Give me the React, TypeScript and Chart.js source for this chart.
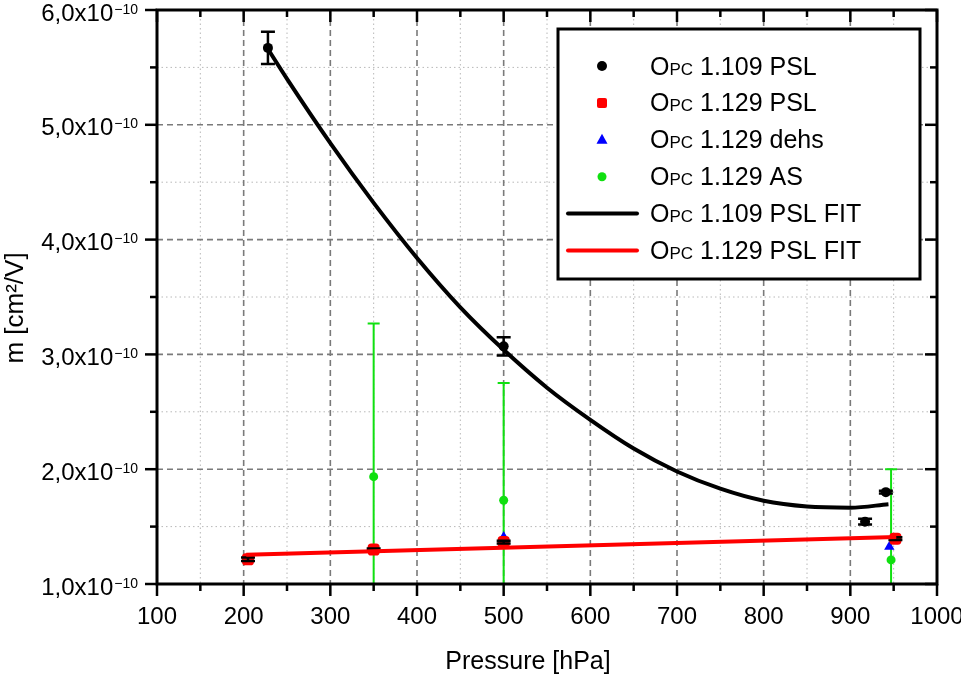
import { useEffect, useRef } from "react"
import { Chart, type ChartConfiguration, type Plugin, registerables } from "chart.js"

Chart.register(...registerables)

const FONT = '"Liberation Sans", Arial, Helvetica, sans-serif'

// OPC 1.109 PSL
const psl109X = [228, 500, 917, 941]
const psl109Y = [5.67e-10, 3.07e-10, 1.543e-10, 1.8e-10]
const psl109Err = [0.14e-10, 0.08e-10, 0.025e-10, 0.012e-10]

// OPC 1.129 PSL
const psl129X = [205, 350, 500, 952]
const psl129Y = [1.215e-10, 1.3e-10, 1.365e-10, 1.395e-10]
const psl129Err = [0.015e-10, 0.01e-10, 0.012e-10, 0.012e-10]

// OPC 1.129 dehs
const dehsX = [500, 945]
const dehsY = [1.41e-10, 1.325e-10]

// OPC 1.129 AS
const asX = [350, 500, 947]
const asY = [1.935e-10, 1.73e-10, 1.21e-10]
const asErr = [1.335e-10, 1.02e-10, 0.79e-10]

// fit curves
const fit109X = [228, 250, 300, 350, 400, 450, 500, 550, 600, 650, 700, 750, 800, 850, 900, 944]
const fit109Y = [
  5.66e-10, 5.4e-10, 4.84e-10, 4.32e-10, 3.84e-10, 3.41e-10, 3.04e-10, 2.71e-10,
  2.43e-10, 2.18e-10, 1.98e-10, 1.83e-10, 1.725e-10, 1.675e-10, 1.665e-10, 1.695e-10,
]
const fit129X = [203, 953]
const fit129Y = [1.255e-10, 1.41e-10]

const seriesNames = [
  "OPC 1.109 PSL",
  "OPC 1.129 PSL",
  "OPC 1.129 dehs",
  "OPC 1.129 AS",
  "OPC 1.109 PSL FIT",
  "OPC 1.129 PSL FIT",
]

const xMajorTicks = [100, 200, 300, 400, 500, 600, 700, 800, 900, 1000]
const xMinorTicks = [150, 250, 350, 450, 550, 650, 750, 850, 950]
const yMajorTicks = [1e-10, 2e-10, 3e-10, 4e-10, 5e-10, 6e-10]
const yMinorTicks = [1.5e-10, 2.5e-10, 3.5e-10, 4.5e-10, 5.5e-10]
const yTickMantissas = ["1,0", "2,0", "3,0", "4,0", "5,0", "6,0"]

const GREEN = "#10e010"

const pts = (xs: number[], ys: number[]) => xs.map((x, i) => ({ x, y: ys[i] }))

const errorBars: ({ err: number[]; color: string; half: number; width: number } | null)[] = [
  { err: psl109Err, color: "#000", half: 7, width: 2.5 },
  { err: psl129Err, color: "#000", half: 7, width: 2.5 },
  null,
  { err: asErr, color: GREEN, half: 6, width: 2 },
  null,
  null,
]

const framePlugin: Plugin<"scatter"> = {
  id: "frame",
  beforeDatasetsDraw(chart) {
    const { ctx, chartArea: a, scales } = chart
    const x = scales.x
    const y = scales.y
    ctx.save()
    const vline = (v: number) => {
      const p = x.getPixelForValue(v)
      ctx.beginPath()
      ctx.moveTo(p, a.top)
      ctx.lineTo(p, a.bottom)
      ctx.stroke()
    }
    const hline = (v: number) => {
      const p = y.getPixelForValue(v)
      ctx.beginPath()
      ctx.moveTo(a.left, p)
      ctx.lineTo(a.right, p)
      ctx.stroke()
    }
    ctx.strokeStyle = "#b8b8b8"
    ctx.lineWidth = 1
    ctx.setLineDash([1.5, 3])
    xMinorTicks.forEach(vline)
    yMinorTicks.forEach(hline)
    ctx.strokeStyle = "#7a7a7a"
    ctx.lineWidth = 1.6
    ctx.setLineDash([6, 4])
    xMajorTicks.forEach(vline)
    yMajorTicks.forEach(hline)
    ctx.restore()
  },
  afterDatasetDraw(chart, args) {
    const eb = errorBars[args.index]
    if (!eb) return
    const { ctx, chartArea: a, scales } = chart
    const data = chart.data.datasets[args.index].data as { x: number; y: number }[]
    ctx.save()
    ctx.beginPath()
    ctx.rect(a.left, a.top, a.right - a.left, a.bottom - a.top)
    ctx.clip()
    ctx.strokeStyle = eb.color
    ctx.lineWidth = eb.width
    data.forEach((p, i) => {
      const px = scales.x.getPixelForValue(p.x)
      const top = scales.y.getPixelForValue(p.y + eb.err[i])
      const bot = scales.y.getPixelForValue(p.y - eb.err[i])
      ctx.beginPath()
      ctx.moveTo(px, top)
      ctx.lineTo(px, bot)
      ctx.moveTo(px - eb.half, top)
      ctx.lineTo(px + eb.half, top)
      ctx.moveTo(px - eb.half, bot)
      ctx.lineTo(px + eb.half, bot)
      ctx.stroke()
    })
    ctx.restore()
  },
  afterDraw(chart) {
    const { ctx, chartArea: a, scales } = chart
    const x = scales.x
    const y = scales.y
    ctx.save()

    // legend
    const lx = 558
    const ly = 29
    ctx.fillStyle = "#fff"
    ctx.fillRect(lx, ly, 362, 250)
    ctx.strokeStyle = "#000"
    ctx.lineWidth = 3
    ctx.strokeRect(lx, ly, 362, 250)
    const mx = 602
    seriesNames.forEach((name, i) => {
      const ry = 66 + i * 36.9
      ctx.save()
      if (i === 0 || i === 3) {
        ctx.fillStyle = i === 0 ? "#000" : GREEN
        ctx.beginPath()
        ctx.arc(mx, ry, i === 0 ? 5 : 4.5, 0, Math.PI * 2)
        ctx.fill()
      } else if (i === 1) {
        ctx.fillStyle = "#ff0000"
        ctx.beginPath()
        ctx.roundRect(mx - 5, ry - 5, 10, 10, 2)
        ctx.fill()
      } else if (i === 2) {
        ctx.fillStyle = "#0000ff"
        ctx.beginPath()
        ctx.moveTo(mx, ry - 6)
        ctx.lineTo(mx + 5.5, ry + 4)
        ctx.lineTo(mx - 5.5, ry + 4)
        ctx.closePath()
        ctx.fill()
      } else {
        ctx.strokeStyle = i === 4 ? "#000" : "#ff0000"
        ctx.lineWidth = 4
        ctx.lineCap = "round"
        ctx.beginPath()
        ctx.moveTo(568, ry)
        ctx.lineTo(637, ry)
        ctx.stroke()
      }
      ctx.restore()
      // small caps "OPC"
      const [head, ...rest] = name.split(" ")
      let tx = 650
      const by = ry + 8.5
      ctx.fillStyle = "#000"
      ctx.textAlign = "left"
      ctx.textBaseline = "alphabetic"
      ctx.font = `25px ${FONT}`
      ctx.fillText(head[0], tx, by)
      tx += ctx.measureText(head[0]).width
      ctx.font = `17px ${FONT}`
      ctx.fillText(head.slice(1).toUpperCase(), tx, by)
      tx += ctx.measureText(head.slice(1).toUpperCase()).width
      ctx.font = `25px ${FONT}`
      ctx.fillText(" " + rest.join(" "), tx, by)
    })

    // frame
    ctx.strokeStyle = "#000"
    ctx.lineWidth = 3
    ctx.strokeRect(a.left, a.top, a.right - a.left, a.bottom - a.top)

    // ticks
    ctx.lineWidth = 2.5
    const tick = (x1: number, y1: number, x2: number, y2: number) => {
      ctx.beginPath()
      ctx.moveTo(x1, y1)
      ctx.lineTo(x2, y2)
      ctx.stroke()
    }
    const xt = (vals: number[], len: number) =>
      vals.forEach((v) => {
        const p = x.getPixelForValue(v)
        tick(p, a.bottom, p, a.bottom + len)
        tick(p, a.top, p, a.top + len)
      })
    const yt = (vals: number[], len: number) =>
      vals.forEach((v) => {
        const p = y.getPixelForValue(v)
        tick(a.left - len, p, a.left, p)
        tick(a.right - len, p, a.right, p)
      })
    xt(xMajorTicks, 12)
    xt(xMinorTicks, 7)
    yt(yMajorTicks, 12)
    yt(yMinorTicks, 7)

    // tick labels
    ctx.fillStyle = "#000"
    ctx.textBaseline = "alphabetic"
    ctx.textAlign = "center"
    ctx.font = `24px ${FONT}`
    xMajorTicks.forEach((v) => ctx.fillText(String(v), x.getPixelForValue(v), 624))

    ctx.textAlign = "right"
    yMajorTicks.forEach((v, i) => {
      const p = y.getPixelForValue(v)
      const sup = "\u221210"
      ctx.font = `14px ${FONT}`
      const sw = ctx.measureText(sup).width
      ctx.fillText(sup, 138, p + 3.5)
      ctx.font = `24px ${FONT}`
      ctx.fillText(`${yTickMantissas[i]}x10`, 138 - sw - 1, p + 10.5)
    })

    // axis titles
    ctx.textAlign = "center"
    ctx.font = `25px ${FONT}`
    ctx.fillText("Pressure [hPa]", 528, 669)
    ctx.save()
    ctx.translate(23, 308)
    ctx.rotate(-Math.PI / 2)
    ctx.font = `26px ${FONT}`
    ctx.fillText("m [cm\u00b2/V]", 0, 0)
    ctx.restore()

    ctx.restore()
  },
}

export default function App() {
  const chartRef = useRef<HTMLCanvasElement>(null)
  const chartInstance = useRef<Chart<"scatter"> | null>(null)

  useEffect(() => {
    document.body.style.margin = "0"
    if (!chartRef.current) return
    if (chartInstance.current) chartInstance.current.destroy()
    const ctx = chartRef.current.getContext("2d")
    if (!ctx) return

    const config: ChartConfiguration<"scatter"> = {
      type: "scatter",
      data: {
        datasets: [
          {
            label: seriesNames[0],
            data: pts(psl109X, psl109Y),
            pointStyle: "circle",
            pointRadius: 5,
            backgroundColor: "#000",
            borderWidth: 0,
            order: 4,
          },
          {
            label: seriesNames[1],
            data: pts(psl129X, psl129Y),
            pointStyle: "rectRounded",
            pointRadius: 7,
            backgroundColor: "#ff0000",
            borderWidth: 0,
            order: 3,
          },
          {
            label: seriesNames[2],
            data: pts(dehsX, dehsY),
            pointStyle: "triangle",
            pointRadius: 6,
            backgroundColor: "#0000ff",
            borderWidth: 0,
            order: 5,
          },
          {
            label: seriesNames[3],
            data: pts(asX, asY),
            pointStyle: "circle",
            pointRadius: 4.5,
            backgroundColor: GREEN,
            borderWidth: 0,
            order: 6,
          },
          {
            label: seriesNames[4],
            data: pts(fit109X, fit109Y),
            showLine: true,
            pointRadius: 0,
            borderColor: "#000",
            borderWidth: 4,
            cubicInterpolationMode: "monotone",
            order: 2,
          },
          {
            label: seriesNames[5],
            data: pts(fit129X, fit129Y),
            showLine: true,
            pointRadius: 0,
            borderColor: "#ff0000",
            borderWidth: 4,
            order: 1,
          },
        ],
      },
      options: {
        responsive: true,
        maintainAspectRatio: false,
        animation: false,
        events: [],
        layout: { padding: { left: 157, right: 24, top: 10, bottom: 91 } },
        scales: {
          x: { type: "linear", min: 100, max: 1000, display: false },
          y: { type: "linear", min: 1e-10, max: 6e-10, display: false },
        },
        plugins: {
          legend: { display: false },
          tooltip: { enabled: false },
        },
      },
      plugins: [framePlugin],
    }

    chartInstance.current = new Chart(ctx, config)

    return () => {
      if (chartInstance.current) {
        chartInstance.current.destroy()
        chartInstance.current = null
      }
    }
  }, [])

  return (
    <div style={{ position: "relative", width: 961, height: 675, background: "#fff" }}>
      <canvas ref={chartRef} />
    </div>
  )
}
